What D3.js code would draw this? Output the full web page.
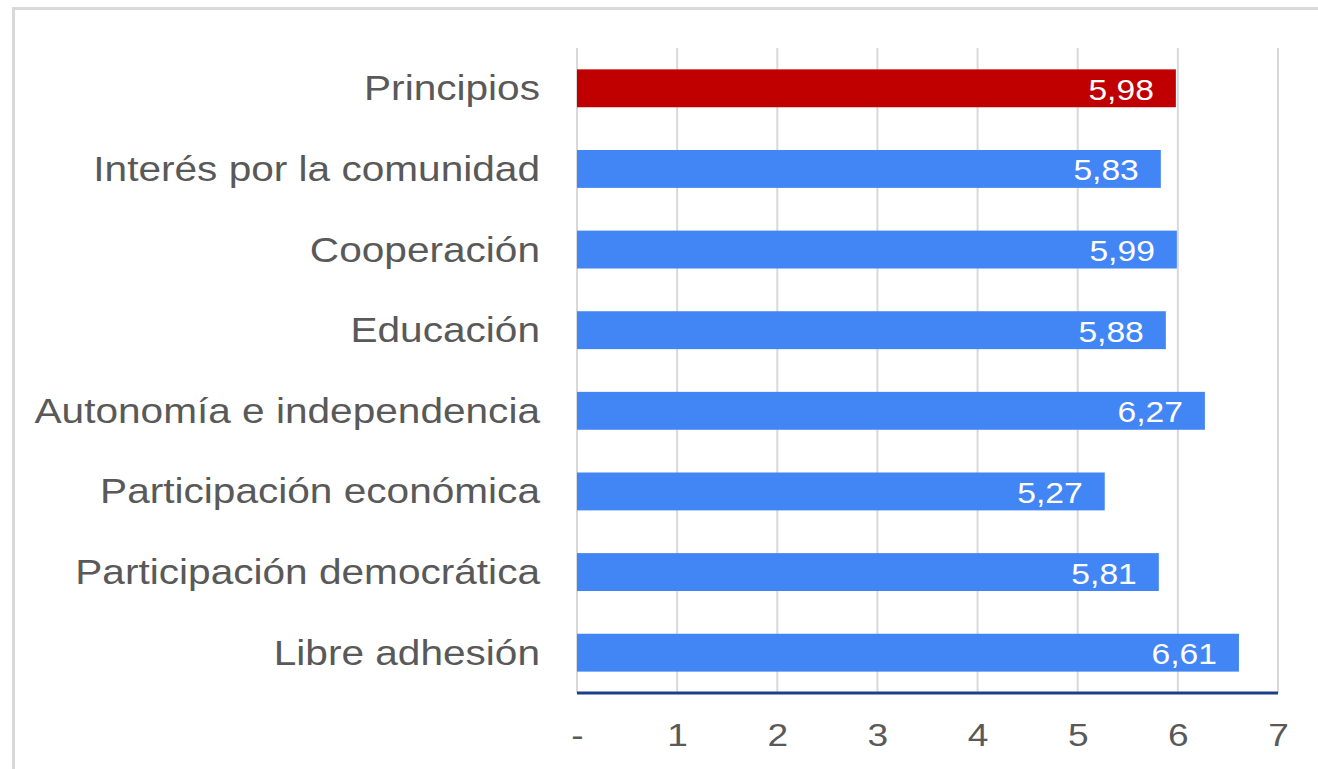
<!DOCTYPE html>
<html lang="en">
<head>
<meta charset="UTF-8">
<title>Principios</title>
<script src="https://d3js.org/d3.v7.min.js"></script>
<style>
    body { margin: 0; background: #fff; }
    text { font-family: "Liberation Sans", Arial, sans-serif; }
</style>
</head>
<body>
<div id="chart"></div>
<script>
// data
var categories = ["Principios", "Interés por la comunidad", "Cooperación", "Educación",
                  "Autonomía e independencia", "Participación económica",
                  "Participación democrática", "Libre adhesión"];
var values = [5.98, 5.83, 5.99, 5.88, 6.27, 5.27, 5.81, 6.61];
var tickValues = [0, 1, 2, 3, 4, 5, 6, 7];
var tickLabels = ["-", "1", "2", "3", "4", "5", "6", "7"];

var width = 1318, height = 769;
var margin = {left: 577, right: 40, top: 48, bottom: 76};
var stretch = 1.16; // the text in the original is a bit wide

var svg = d3.select("#chart").append("svg")
    .attr("width", width)
    .attr("height", height);

// outer frame (only top and left edges are visible)
svg.append("path")
    .attr("d", "M13.5," + height + "V8.5H" + width)
    .attr("fill", "none")
    .attr("stroke", "#d9d9d9")
    .attr("stroke-width", 3);

var x = d3.scaleLinear().domain([0, 7]).range([margin.left, width - margin.right]);
var y = d3.scaleBand().domain(categories)
    .range([margin.top, height - margin.bottom])
    .paddingInner(0.53).paddingOuter(0.265);

// gridlines
svg.append("g").selectAll("line")
    .data(tickValues)
    .join("line")
    .attr("x1", d => x(d)).attr("x2", d => x(d))
    .attr("y1", margin.top).attr("y2", height - margin.bottom)
    .attr("stroke", "#d9d9d9")
    .attr("stroke-width", 2);

// bars
svg.append("g").selectAll("rect")
    .data(values)
    .join("rect")
    .attr("x", x(0))
    .attr("y", (d, i) => y(categories[i]))
    .attr("width", d => x(d) - x(0))
    .attr("height", y.bandwidth())
    .attr("fill", (d, i) => i === 0 ? "#c00000" : "#4285f4");

// value labels
svg.append("g").selectAll("text")
    .data(values)
    .join("text")
    .attr("transform", (d, i) => "translate(" + (x(d) - 22) + "," +
        (y(categories[i]) + y.bandwidth() / 2 + 11.5) + ") scale(" + stretch + ",1)")
    .attr("text-anchor", "end")
    .attr("fill", "#fff")
    .attr("font-size", 29)
    .text(d => d.toFixed(2).replace(".", ","));

// category labels
var yAxis = svg.append("g")
    .attr("transform", "translate(" + (margin.left - 37) + ",0)")
    .call(d3.axisLeft(y).tickSize(0).tickPadding(0));
yAxis.select(".domain").remove();
yAxis.selectAll("text")
    .attr("x", 0)
    .attr("dy", null)
    .attr("transform", "translate(0,12) scale(" + stretch + ",1)")
    .attr("font-size", 35)
    .attr("fill", "#595959")
    .style("font-family", "'Liberation Sans', Arial, sans-serif");

// baseline
svg.append("line")
    .attr("x1", x(0)).attr("x2", x(7))
    .attr("y1", height - margin.bottom).attr("y2", height - margin.bottom)
    .attr("stroke", "#1c3f8c")
    .attr("stroke-width", 3);

// x tick labels
var xAxis = svg.append("g")
    .attr("transform", "translate(0," + (height - margin.bottom) + ")")
    .call(d3.axisBottom(x).tickValues(tickValues)
        .tickFormat((d, i) => tickLabels[i]).tickSize(0).tickPadding(30));
xAxis.select(".domain").remove();
xAxis.selectAll("text")
    .attr("transform", "scale(" + stretch + ",1)")
    .attr("font-size", 32)
    .attr("fill", "#595959")
    .style("font-family", "'Liberation Sans', Arial, sans-serif");
</script>
</body>
</html>
